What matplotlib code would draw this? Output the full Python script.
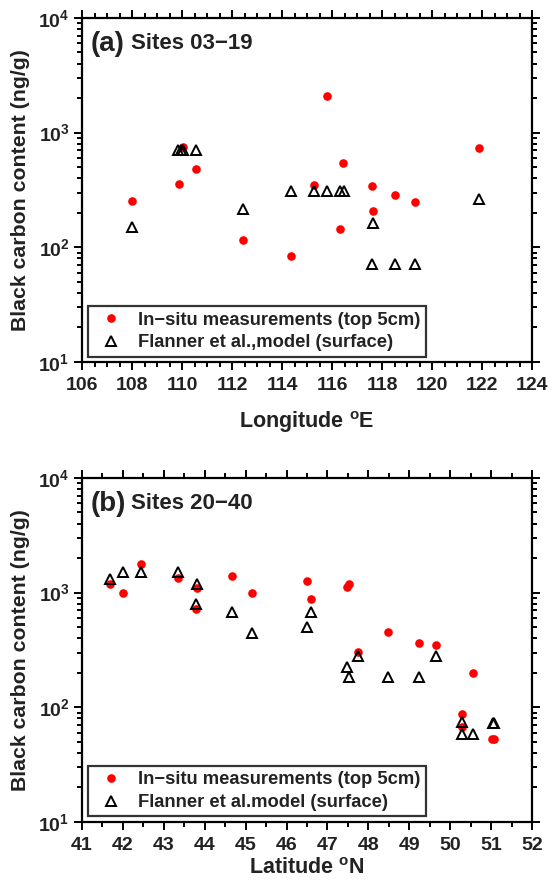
import numpy as np
import matplotlib
matplotlib.use('Agg')
import matplotlib.pyplot as plt
from matplotlib.ticker import MultipleLocator, LogLocator, NullFormatter

plt.rcParams['font.family'] = ['Liberation Sans', 'DejaVu Sans']
plt.rcParams['font.weight'] = 'bold'
plt.rcParams['axes.labelweight'] = 'bold'
plt.rcParams['mathtext.fontset'] = 'custom'
plt.rcParams['mathtext.rm'] = 'Liberation Sans:bold'
plt.rcParams['mathtext.bf'] = 'Liberation Sans:bold'
plt.rcParams['mathtext.it'] = 'Liberation Sans:bold:italic'
plt.rcParams['mathtext.default'] = 'rm'

txt = '#222222'

# panel (a): sites 03-19, longitude
lon_meas = [108.0, 109.88, 110.02, 110.54, 112.44, 114.35, 115.26, 115.81,
            116.45, 116.33, 117.60, 117.64, 118.5, 119.3, 121.88]
bc_meas_a = [256, 358, 745, 480, 115, 84, 353, 2085, 548, 145, 346, 206, 287, 248, 736]
lon_model = [107.98, 109.85, 109.96, 110.05, 110.54, 112.44, 114.35, 115.26,
             115.8, 116.32, 116.48, 117.64, 117.6, 118.5, 119.3, 121.88]
bc_model_a = [151, 702, 702, 702, 702, 217, 311, 311, 311, 311, 311, 162, 72, 72, 72, 265]

# panel (b): sites 20-40, latitude
lat_meas = [41.69, 41.99, 42.45, 43.35, 43.80, 43.78, 44.67, 45.16, 46.51, 46.60,
            47.47, 47.52, 47.74, 48.49, 49.23, 49.66, 50.55, 50.30, 50.30, 51.03, 51.07]
bc_meas_b = [1191, 994, 1790, 1352, 1092, 726, 1399, 987, 1265, 875,
             1122, 1199, 304, 457, 362, 350, 201, 88, 68, 53, 53]
lat_model = [41.69, 41.99, 42.45, 43.35, 43.80, 43.78, 44.67, 45.16, 46.51, 46.60,
             47.47, 47.52, 47.74, 48.49, 49.23, 49.66, 50.30, 50.30, 50.56, 51.04, 51.06]
bc_model_b = [1316, 1515, 1515, 1515, 1191, 797, 683, 448, 502, 683,
              226, 185, 281, 185, 185, 281, 74, 59, 59, 73, 73]

fig = plt.figure(figsize=(5.49, 8.81), dpi=100)
ax1 = fig.add_axes([0.1494, 0.5891, 0.8197, 0.3905])
ax2 = fig.add_axes([0.1494, 0.0670, 0.8197, 0.3905])


def style(ax, xs_m, ys_m, xs_f, ys_f, xlim, xmaj, xmin, xlabel, lpad, tag, title, model_lab):
    ax.plot(xs_m, ys_m, 'o', color='#ff0000', ms=6.2, mec='none',
            label='In\u2212situ measurements (top 5cm)', zorder=3)
    ax.plot(xs_f, ys_f, '^', color='black', mfc='none', ms=7.5, mew=1.4,
            label=model_lab, zorder=4)
    ax.set_yscale('log')
    ax.set_ylim(10, 1e4)
    ax.set_xlim(*xlim)
    ax.xaxis.set_major_locator(MultipleLocator(xmaj))
    ax.xaxis.set_minor_locator(MultipleLocator(xmin))
    ax.yaxis.set_major_locator(LogLocator(base=10, numticks=10))
    ax.yaxis.set_minor_locator(LogLocator(base=10, subs=np.arange(2, 10), numticks=10))
    ax.yaxis.set_minor_formatter(NullFormatter())
    for s in ax.spines.values():
        s.set_linewidth(1.6)
    ax.tick_params(which='both', direction='out', top=True, right=True, width=1.4,
                   labelsize=14, colors='black', labelcolor=txt)
    ax.tick_params(which='major', length=6, pad=3)
    ax.tick_params(which='minor', length=3.5)
    ax.tick_params(axis='x', which='major', pad=5)
    ax.set_xlabel(xlabel, fontsize=15.5, color=txt, labelpad=lpad, fontweight='bold')
    ax.set_ylabel('Black carbon content (ng/g)', fontsize=15.3, color=txt, labelpad=6,
                  fontweight='bold')
    ax.text(0.02, 0.925, tag, transform=ax.transAxes, fontsize=20, color=txt,
            va='center', ha='left')
    ax.text(0.108, 0.925, title, transform=ax.transAxes, fontsize=16, color=txt,
            va='center', ha='left')
    leg = ax.legend(loc='lower left', fontsize=13.2, frameon=True, fancybox=False,
                    borderaxespad=0.3, handletextpad=0.45, handlelength=2.0,
                    labelspacing=0.3, borderpad=0.3)
    leg.get_frame().set_edgecolor('black')
    leg.get_frame().set_linewidth(1.6)
    for t in leg.get_texts():
        t.set_color(txt)


style(ax1, lon_meas, bc_meas_a, lon_model, bc_model_a, (106, 124), 2, 0.5,
      'Longitude $^{\\rm o}$E', 11, '(a)', 'Sites 03\u221219', 'Flanner et al.,model (surface)')
style(ax2, lat_meas, bc_meas_b, lat_model, bc_model_b, (41, 52), 1, 0.5,
      'Latitude $^{\\rm o}$N', 2.5, '(b)', 'Sites 20\u221240', 'Flanner et al.model (surface)')

fig.savefig('out.png', dpi=100)
